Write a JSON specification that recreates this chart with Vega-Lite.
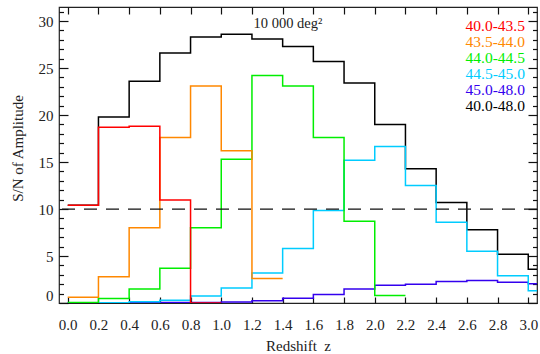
{
  "$schema": "https://vega.github.io/schema/vega-lite/v6.json",
  "width": 478,
  "height": 296,
  "autosize": {"type": "none"},
  "padding": {"left": 59, "top": 7, "right": 3, "bottom": 51},
  "background": "white",
  "config": {
    "view": {"stroke": "#222", "strokeWidth": 1.2},
    "font": "Liberation Serif",
    "axis": {"grid": false, "domain": false, "tickColor": "#111", "tickWidth": 1.2, "labelColor": "#222", "titleColor": "#222", "labelFont": "Liberation Serif", "titleFont": "Liberation Serif", "labelFontSize": 15, "titleFontSize": 15, "titleFontWeight": "normal"}
  },
  "title": {"text": "10 000 deg²", "font": "Liberation Serif", "fontSize": 14.5, "fontWeight": "normal", "color": "#222", "anchor": "middle", "frame": "group", "offset": -36, "dx": -10, "baseline": "alphabetic"},
  "datasets": {
    "h": [
      {"s": "40.0-48.0", "x": 0.0, "v": 10.4},
      {"s": "40.0-48.0", "x": 0.2, "v": 19.8},
      {"s": "40.0-48.0", "x": 0.4, "v": 23.6},
      {"s": "40.0-48.0", "x": 0.6, "v": 26.6},
      {"s": "40.0-48.0", "x": 0.8, "v": 28.3},
      {"s": "40.0-48.0", "x": 1.0, "v": 28.6},
      {"s": "40.0-48.0", "x": 1.2, "v": 28.1},
      {"s": "40.0-48.0", "x": 1.4, "v": 27.3},
      {"s": "40.0-48.0", "x": 1.6, "v": 25.7},
      {"s": "40.0-48.0", "x": 1.8, "v": 23.4},
      {"s": "40.0-48.0", "x": 2.0, "v": 19.0},
      {"s": "40.0-48.0", "x": 2.2, "v": 14.3},
      {"s": "40.0-48.0", "x": 2.4, "v": 10.7},
      {"s": "40.0-48.0", "x": 2.6, "v": 7.8},
      {"s": "40.0-48.0", "x": 2.8, "v": 5.2},
      {"s": "40.0-48.0", "x": 3.0, "v": 3.6},
      {"s": "40.0-48.0", "x": 3.2, "v": 3.6},
      {"s": "45.0-48.0", "x": 0.0, "v": 0.02},
      {"s": "45.0-48.0", "x": 0.2, "v": 0.02},
      {"s": "45.0-48.0", "x": 0.4, "v": 0.03},
      {"s": "45.0-48.0", "x": 0.6, "v": 0.04},
      {"s": "45.0-48.0", "x": 0.8, "v": 0.05},
      {"s": "45.0-48.0", "x": 1.0, "v": 0.1},
      {"s": "45.0-48.0", "x": 1.2, "v": 0.25},
      {"s": "45.0-48.0", "x": 1.4, "v": 0.5},
      {"s": "45.0-48.0", "x": 1.6, "v": 0.9},
      {"s": "45.0-48.0", "x": 1.8, "v": 1.5},
      {"s": "45.0-48.0", "x": 2.0, "v": 1.9},
      {"s": "45.0-48.0", "x": 2.2, "v": 2.0},
      {"s": "45.0-48.0", "x": 2.4, "v": 2.3},
      {"s": "45.0-48.0", "x": 2.6, "v": 2.4},
      {"s": "45.0-48.0", "x": 2.8, "v": 2.2},
      {"s": "45.0-48.0", "x": 3.0, "v": 2.05},
      {"s": "45.0-48.0", "x": 3.2, "v": 2.05},
      {"s": "44.5-45.0", "x": 0.0, "v": 0.0},
      {"s": "44.5-45.0", "x": 0.2, "v": 0.02},
      {"s": "44.5-45.0", "x": 0.4, "v": 0.12},
      {"s": "44.5-45.0", "x": 0.6, "v": 0.3},
      {"s": "44.5-45.0", "x": 0.8, "v": 0.75},
      {"s": "44.5-45.0", "x": 1.0, "v": 1.6},
      {"s": "44.5-45.0", "x": 1.2, "v": 3.2},
      {"s": "44.5-45.0", "x": 1.4, "v": 5.8},
      {"s": "44.5-45.0", "x": 1.6, "v": 9.85},
      {"s": "44.5-45.0", "x": 1.8, "v": 15.2},
      {"s": "44.5-45.0", "x": 2.0, "v": 16.65},
      {"s": "44.5-45.0", "x": 2.2, "v": 12.5},
      {"s": "44.5-45.0", "x": 2.4, "v": 8.6},
      {"s": "44.5-45.0", "x": 2.6, "v": 5.5},
      {"s": "44.5-45.0", "x": 2.8, "v": 2.9},
      {"s": "44.5-45.0", "x": 3.0, "v": 1.3},
      {"s": "44.5-45.0", "x": 3.2, "v": 1.3},
      {"s": "44.0-44.5", "x": 0.0, "v": 0.05},
      {"s": "44.0-44.5", "x": 0.2, "v": 0.48},
      {"s": "44.0-44.5", "x": 0.4, "v": 1.5},
      {"s": "44.0-44.5", "x": 0.6, "v": 3.7},
      {"s": "44.0-44.5", "x": 0.8, "v": 8.0},
      {"s": "44.0-44.5", "x": 1.0, "v": 15.3},
      {"s": "44.0-44.5", "x": 1.2, "v": 24.2},
      {"s": "44.0-44.5", "x": 1.4, "v": 23.1},
      {"s": "44.0-44.5", "x": 1.6, "v": 17.6},
      {"s": "44.0-44.5", "x": 1.8, "v": 8.7},
      {"s": "44.0-44.5", "x": 2.0, "v": 0.8},
      {"s": "44.0-44.5", "x": 2.2, "v": 0.8},
      {"s": "43.5-44.0", "x": 0.0, "v": 0.6},
      {"s": "43.5-44.0", "x": 0.2, "v": 2.8},
      {"s": "43.5-44.0", "x": 0.4, "v": 8.0},
      {"s": "43.5-44.0", "x": 0.6, "v": 17.6},
      {"s": "43.5-44.0", "x": 0.8, "v": 23.1},
      {"s": "43.5-44.0", "x": 1.0, "v": 16.2},
      {"s": "43.5-44.0", "x": 1.2, "v": 2.6},
      {"s": "43.5-44.0", "x": 1.4, "v": 2.6},
      {"s": "40.0-43.5", "x": 0.0, "v": 10.4},
      {"s": "40.0-43.5", "x": 0.2, "v": 18.7},
      {"s": "40.0-43.5", "x": 0.4, "v": 18.8},
      {"s": "40.0-43.5", "x": 0.6, "v": 10.95},
      {"s": "40.0-43.5", "x": 0.8, "v": 0.0},
      {"s": "40.0-43.5", "x": 1.0, "v": 0.0}
    ],
    "threshold": [{"level": 10}]
  },
  "layer": [
    {
      "data": {"name": "h"},
      "mark": {"type": "line", "interpolate": "step-after", "strokeWidth": 1.5, "clip": true},
      "encoding": {
        "x": {
          "field": "x", "type": "quantitative",
          "scale": {"domain": [-0.057, 3.057], "nice": false, "zero": false},
          "axis": {"orient": "bottom", "values": [0, 0.2, 0.4, 0.6, 0.8, 1.0, 1.2, 1.4, 1.6, 1.8, 2.0, 2.2, 2.4, 2.6, 2.8, 3.0], "format": ".1f", "tickSize": -6, "labelPadding": 20, "title": "Redshift\u00a0\u00a0z", "titleBaseline": "alphabetic", "titleY": 47}
        },
        "y": {
          "field": "v", "type": "quantitative",
          "scale": {"domain": [0, 31.5], "nice": false},
          "axis": {
            "orient": "left",
            "values": [0, 5, 10, 15, 20, 25, 30],
            "ticks": false,
            "labelBaseline": {"condition": {"test": "datum.value === 0", "value": "bottom"}, "value": "middle"},
            "labelPadding": 6,
            "title": "S/N of Amplitude",
            "titleX": -42, "titleY": 141, "titleAlign": "center", "titleBaseline": "middle", "titleAngle": -90
          }
        },
        "color": {
          "field": "s", "type": "nominal",
          "scale": {"domain": ["40.0-43.5", "43.5-44.0", "44.0-44.5", "44.5-45.0", "45.0-48.0", "40.0-48.0"], "range": ["#ff0000", "#ff8800", "#00ee00", "#00ccff", "#3300ee", "#000000"]},
          "legend": {
            "orient": "top-right", "offset": 12, "title": null, "padding": 0,
            "symbolSize": 0, "symbolOpacity": 0, "symbolStrokeWidth": 0, "labelOffset": 0,
            "labelFont": "Liberation Serif", "labelFontSize": 15.5, "rowPadding": 0, "clipHeight": 14.7,
            "encode": {"labels": {"update": {"fill": {"scale": "color", "field": "value"}}}}
          }
        },
        "order": {"field": "x"}
      }
    },
    {
      "data": {"name": "threshold"},
      "mark": {"type": "rule", "strokeDash": [13, 9], "strokeWidth": 1.2, "color": "#111"},
      "encoding": {
        "y": {
          "field": "level", "type": "quantitative",
          "axis": {
            "orient": "right",
            "values": [0, 1, 2, 3, 4, 5, 6, 7, 8, 9, 10, 11, 12, 13, 14, 15, 16, 17, 18, 19, 20, 21, 22, 23, 24, 25, 26, 27, 28, 29, 30, 31],
            "tickSize": {"condition": {"test": "datum.value % 5 === 0", "value": -9}, "value": -4.5},
            "labels": false, "title": null
          }
        }
      }
    },
    {
      "data": {"name": "h"},
      "mark": {"type": "point", "opacity": 0},
      "encoding": {
        "x": {
          "field": "x", "type": "quantitative",
          "axis": {"orient": "top", "values": [0, 0.2, 0.4, 0.6, 0.8, 1.0, 1.2, 1.4, 1.6, 1.8, 2.0, 2.2, 2.4, 2.6, 2.8, 3.0], "tickSize": -7, "labels": false, "title": null}
        },
        "y": {
          "field": "v", "type": "quantitative",
          "axis": {
            "orient": "left",
            "values": [0, 1, 2, 3, 4, 5, 6, 7, 8, 9, 10, 11, 12, 13, 14, 15, 16, 17, 18, 19, 20, 21, 22, 23, 24, 25, 26, 27, 28, 29, 30, 31],
            "tickSize": {"condition": {"test": "datum.value % 5 === 0", "value": -9}, "value": -4.5},
            "labels": false, "title": null, "offset": 0
          }
        }
      }
    }
  ],
  "resolve": {"axis": {"x": "independent", "y": "independent"}}
}
